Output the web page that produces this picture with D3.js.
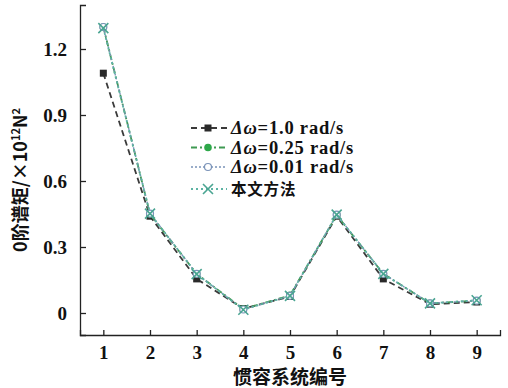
<!DOCTYPE html>
<html>
<head>
<meta charset="utf-8">
<script src="https://cdn.jsdelivr.net/npm/d3@7"></script>
<style>
  body { margin: 0; background: #fff; }
  svg { display: block; }
  .tick text { font-family: "Liberation Serif", serif; font-weight: bold; font-size: 19px; fill: #111; }
</style>
</head>
<body>
<div id="chart"></div>
<script>
// data
const systems = [1, 2, 3, 4, 5, 6, 7, 8, 9];
const yTicks = [0, 0.3, 0.6, 0.9, 1.2];
const dw10 = [1.09, 0.44, 0.155, 0.02, 0.075, 0.44, 0.155, 0.04, 0.05];
const dw025 = [1.30, 0.45, 0.178, 0.018, 0.08, 0.445, 0.178, 0.044, 0.056];
const dw001 = [1.30, 0.452, 0.178, 0.016, 0.078, 0.447, 0.178, 0.044, 0.056];
const ours = [1.295, 0.452, 0.177, 0.015, 0.078, 0.447, 0.178, 0.044, 0.058];

const seriesNames = ["=1.0 rad/s", "=0.25 rad/s", "=0.01 rad/s", "本文方法"];
const seriesList = [
    { name: seriesNames[0], values: dw10, color: "#3a3a3a", dash: "6,4", width: 1.8, marker: "square", mColor: "#2a2a2a" },
    { name: seriesNames[1], values: dw025, color: "#3f9a52", dash: "6,3,2,3", width: 1.8, marker: "dot", mColor: "#2ea84a" },
    { name: seriesNames[2], values: dw001, color: "#7a93b8", dash: "2,2", width: 1.4, marker: "circle", mColor: "#7a93b8" },
    { name: seriesNames[3], values: ours, color: "#5cb3a3", dash: "2,3", width: 1.8, marker: "cross", mColor: "#4aa592" }
];
const legendRows = [0, 19.5, 39, 61];

const W = 508, H = 388;
const svg = d3.select("#chart").append("svg").attr("width", W).attr("height", H);

const x = d3.scaleLinear().domain([0.5, 9.5]).range([80, 500]);
const y = d3.scaleLinear().domain([-0.1, 1.4]).range([335, 5]);

// axes (ticks point inward)
const gx = svg.append("g")
    .attr("transform", `translate(0,${y(-0.1)})`)
    .call(d3.axisBottom(x).tickValues(systems).tickSize(-5).tickSizeOuter(-5).tickPadding(11));
const gy = svg.append("g")
    .attr("transform", `translate(${x(0.5)},0)`)
    .call(d3.axisLeft(y).tickValues(yTicks).tickSize(-6).tickSizeOuter(-6).tickPadding(13)
        .tickFormat(d => d === 0 ? "0" : d3.format(".1f")(d)));
[gx, gy].forEach(g => {
    g.select(".domain").attr("stroke", "#222").attr("stroke-width", 1.3);
    g.selectAll(".tick line").attr("stroke", "#222").attr("stroke-width", 1.3);
});

// lines
const line = d3.line().x((d, i) => x(systems[i])).y(d => y(d));

function drawMarker(g, type, cx, cy, col) {
    if (type === "square") {
        g.append("rect").attr("x", cx - 3.5).attr("y", cy - 3.5).attr("width", 7).attr("height", 7).attr("fill", col);
    } else if (type === "dot") {
        g.append("circle").attr("cx", cx).attr("cy", cy).attr("r", 3.8).attr("fill", col);
    } else if (type === "circle") {
        g.append("circle").attr("cx", cx).attr("cy", cy).attr("r", 3.5).attr("fill", "#fff").attr("stroke", col).attr("stroke-width", 1.2);
    } else {
        const s = 5;
        g.append("path").attr("d", `M${cx - s},${cy - s}L${cx + s},${cy + s}M${cx - s},${cy + s}L${cx + s},${cy - s}`)
            .attr("stroke", col).attr("stroke-width", 1.6).attr("fill", "none");
    }
}

seriesList.forEach(s => {
    svg.append("path").datum(s.values)
        .attr("d", line).attr("fill", "none")
        .attr("stroke", s.color).attr("stroke-width", s.width).attr("stroke-dasharray", s.dash);
    const gm = svg.append("g");
    s.values.forEach((v, i) => drawMarker(gm, s.marker, x(systems[i]), y(v), s.mColor));
});

// legend
const leg = svg.append("g").attr("transform", "translate(191,128)");
seriesList.forEach((s, i) => {
    const g = leg.append("g").attr("transform", `translate(0,${legendRows[i]})`);
    g.append("line").attr("x1", 0).attr("x2", 36).attr("y1", 0).attr("y2", 0)
        .attr("stroke", s.color).attr("stroke-width", s.width).attr("stroke-dasharray", s.dash);
    drawMarker(g, s.marker, 17, 0, s.mColor);
    const t = g.append("text").attr("x", 40).attr("y", 6)
        .style("font-weight", "bold").attr("fill", "#111");
    if (i < 3) {
        t.style("font-family", "'Liberation Serif', serif").style("font-size", "18.5px").style("letter-spacing", "0.8px");
        t.append("tspan").style("font-style", "italic").text("Δω");
        t.append("tspan").text(s.name);
    } else {
        t.attr("y", 5.5).style("font-family", "'Noto Sans CJK SC', sans-serif").style("font-size", "15.5px").style("letter-spacing", "0.8px").text(s.name);
    }
});

// axis titles
svg.append("text")
    .attr("x", 290).attr("y", 384).attr("text-anchor", "middle")
    .style("font-family", "'Noto Sans CJK SC', sans-serif").style("font-weight", "bold").style("font-size", "19px")
    .attr("fill", "#111").text("惯容系统编号");

const yl = svg.append("text")
    .attr("transform", "translate(27,180) rotate(-90)").attr("text-anchor", "middle")
    .style("font-family", "'Noto Sans CJK SC', sans-serif").style("font-weight", "bold").style("font-size", "18px")
    .attr("fill", "#111");
yl.append("tspan").text("0阶谱矩/×10");
yl.append("tspan").attr("dy", -7).style("font-size", "11px").text("12");
yl.append("tspan").attr("dy", 7).text("N");
yl.append("tspan").attr("dy", -7).style("font-size", "11px").text("2");
</script>
</body>
</html>
